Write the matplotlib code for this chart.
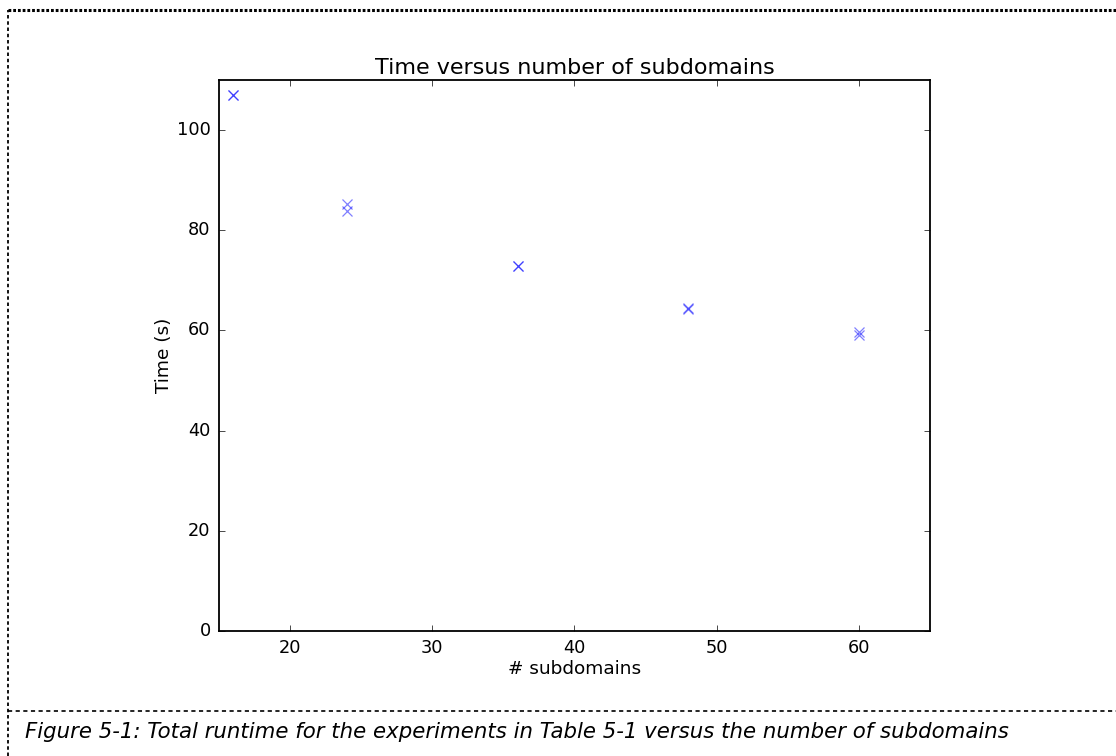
import matplotlib
matplotlib.use("Agg")
import matplotlib.pyplot as plt
from matplotlib.lines import Line2D

plt.style.use('classic')

# two runs per configuration
subdomains = [16, 16, 24, 24, 36, 36, 48, 48, 60, 60]
times = [107.0, 107.0, 85.3, 83.9, 72.9, 72.8, 64.5, 64.3, 59.6, 59.1]

x_ticks = [20, 30, 40, 50, 60]
y_ticks = [0, 20, 40, 60, 80, 100]

fig = plt.figure(figsize=(11.16, 7.56), dpi=100, facecolor='white')
ax = fig.add_axes([0.1962, 0.1653, 0.6371, 0.7289])

ax.plot(subdomains, times, 'x', color='b', alpha=0.5, markersize=7.5, mew=0.9)
ax.set_xlim(15, 65)
ax.set_ylim(0, 110)
ax.set_xticks(x_ticks)
ax.set_yticks(y_ticks)
ax.set_title('Time versus number of subdomains', fontsize=16, pad=4)
ax.set_xlabel('# subdomains', fontsize=13.3, labelpad=2)
ax.set_ylabel('Time (s)', fontsize=13.3, labelpad=3)
ax.tick_params(labelsize=12.8, pad=6)
for sp in ax.spines.values():
    sp.set_linewidth(1.3)

# dashed frame around the figure and caption
fig.add_artist(Line2D([8 / 1116, 1.0], [1 - 10 / 756] * 2, color='black',
                      lw=2.2, ls=(0, (2, 1.4))))
fig.add_artist(Line2D([8 / 1116] * 2, [0.0, 1 - 10 / 756], color='black',
                      lw=1.3, ls=(0, (2.5, 2))))
fig.add_artist(Line2D([8 / 1116, 1.0], [1 - 711 / 756] * 2, color='black',
                      lw=1.2, ls=(0, (3, 2.5))))

fig.text(25 / 1116, 1 - 732 / 756,
         'Figure 5-1: Total runtime for the experiments in Table 5-1 versus the number of subdomains',
         fontsize=15.3, style='italic', va='center', ha='left')

fig.savefig('out.png', dpi=100, facecolor='white')
